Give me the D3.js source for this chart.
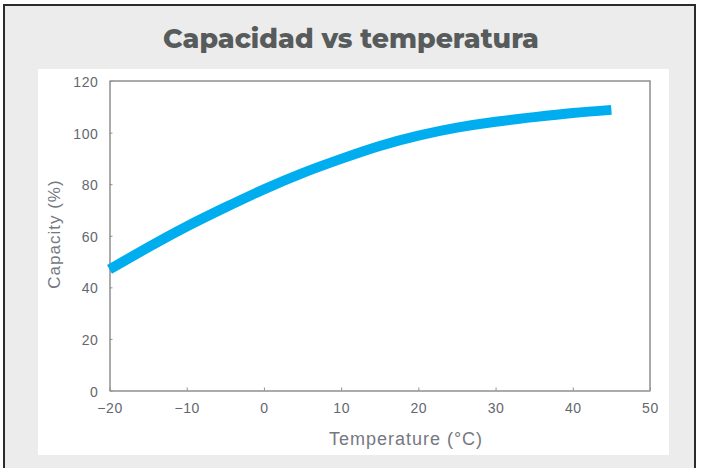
<!DOCTYPE html>
<html>
<head>
<meta charset="utf-8">
<script src="https://cdn.jsdelivr.net/npm/d3@7"></script>
<style>
  body { margin: 0; background: #fff; }
  svg { display: block; }
</style>
</head>
<body>
<svg id="chart" width="702" height="468"></svg>
<script>
// data
var temps = [-20, -15, -10, -5, 0, 5, 10, 15, 20, 25, 30, 35, 40, 45]
var capacity = [47, 55.5, 63.6, 71, 78, 84.3, 89.8, 94.8, 98.8, 101.9, 104.2, 106, 107.6, 108.8]
var xTicks = [-20, -10, 0, 10, 20, 30, 40, 50]
var yTicks = [0, 20, 40, 60, 80, 100, 120]
var title = "Capacidad vs temperatura"
var xTitle = "Temperature (°C)"
var yTitle = "Capacity (%)"

var svg = d3.select('#chart')

// outer card
svg.append("rect")
    .attr("x", 4).attr("y", 5)
    .attr("width", 691).attr("height", 470)
    .attr("fill", "#ececec")
    .attr("stroke", "#2b2b2b")
    .attr("stroke-width", 2)

svg.append("text")
    .attr("x", 351).attr("y", 48)
    .attr("text-anchor", "middle")
    .attr("font-family", "Montserrat, 'Open Sans', sans-serif")
    .attr("font-weight", 800)
    .attr("font-size", 26.8)
    .attr("fill", "#575b5b")
    .text(title)

// white panel
svg.append("rect")
    .attr("x", 38).attr("y", 69)
    .attr("width", 631).attr("height", 386)
    .attr("fill", "#fff")

var x = d3.scaleLinear()
    .domain([-20, 50])
    .range([109.5, 650])

var y = d3.scaleLinear()
    .domain([0, 120])
    .range([390.5, 81])

var axisColor = "#8f8f8f"
var labelColor = "#64676f"
var font = "Arial, 'Liberation Sans', sans-serif"

var xAxis = svg.append("g")
    .attr("transform", "translate(0," + y(0) + ")")
    .call(d3.axisBottom(x).tickValues(xTicks).tickSizeInner(-3).tickSizeOuter(0)
        .tickFormat(function(d) { return d < 0 ? "\u2212" + Math.abs(d) : d }))

var yAxis = svg.append("g")
    .attr("transform", "translate(" + x(-20) + ",0)")
    .call(d3.axisLeft(y).tickValues(yTicks).tickSizeInner(-3).tickSizeOuter(0))

;[xAxis, yAxis].forEach(function(g) {
    g.select(".domain").attr("stroke", axisColor).attr("stroke-width", 1.5)
    g.selectAll(".tick line").attr("stroke", axisColor)
    g.selectAll(".tick text")
        .attr("fill", labelColor)
        .attr("font-family", font)
        .attr("font-size", 14)
        .attr("letter-spacing", 0.6)
})
xAxis.selectAll(".tick text").attr("dy", "0.71em").attr("y", 13)
yAxis.selectAll(".tick text").attr("x", -11).attr("dy", "0.4em")

// frame top and right
svg.append("path")
    .attr("d", "M" + x(-20) + "," + y(120) + "H" + x(50) + "V" + y(0))
    .attr("fill", "none")
    .attr("stroke", axisColor)
    .attr("stroke-width", 1.5)

// axis titles
svg.append("text")
    .attr("x", 406).attr("y", 445)
    .attr("text-anchor", "middle")
    .attr("font-family", font)
    .attr("font-size", 18)
    .attr("letter-spacing", 1)
    .attr("fill", "#75787f")
    .text(xTitle)

svg.append("text")
    .attr("transform", "translate(60,234) rotate(-90)")
    .attr("text-anchor", "middle")
    .attr("font-family", font)
    .attr("font-size", 17)
    .attr("letter-spacing", 1)
    .attr("fill", "#75787f")
    .text(yTitle)

// curve
var line = d3.line()
    .x(function(d, i) { return x(temps[i]) })
    .y(function(d) { return y(d) })
    .curve(d3.curveNatural)

svg.append("path")
    .datum(capacity)
    .attr("d", line)
    .attr("fill", "none")
    .attr("stroke", "#00aeef")
    .attr("stroke-width", 10)
</script>
</body>
</html>
